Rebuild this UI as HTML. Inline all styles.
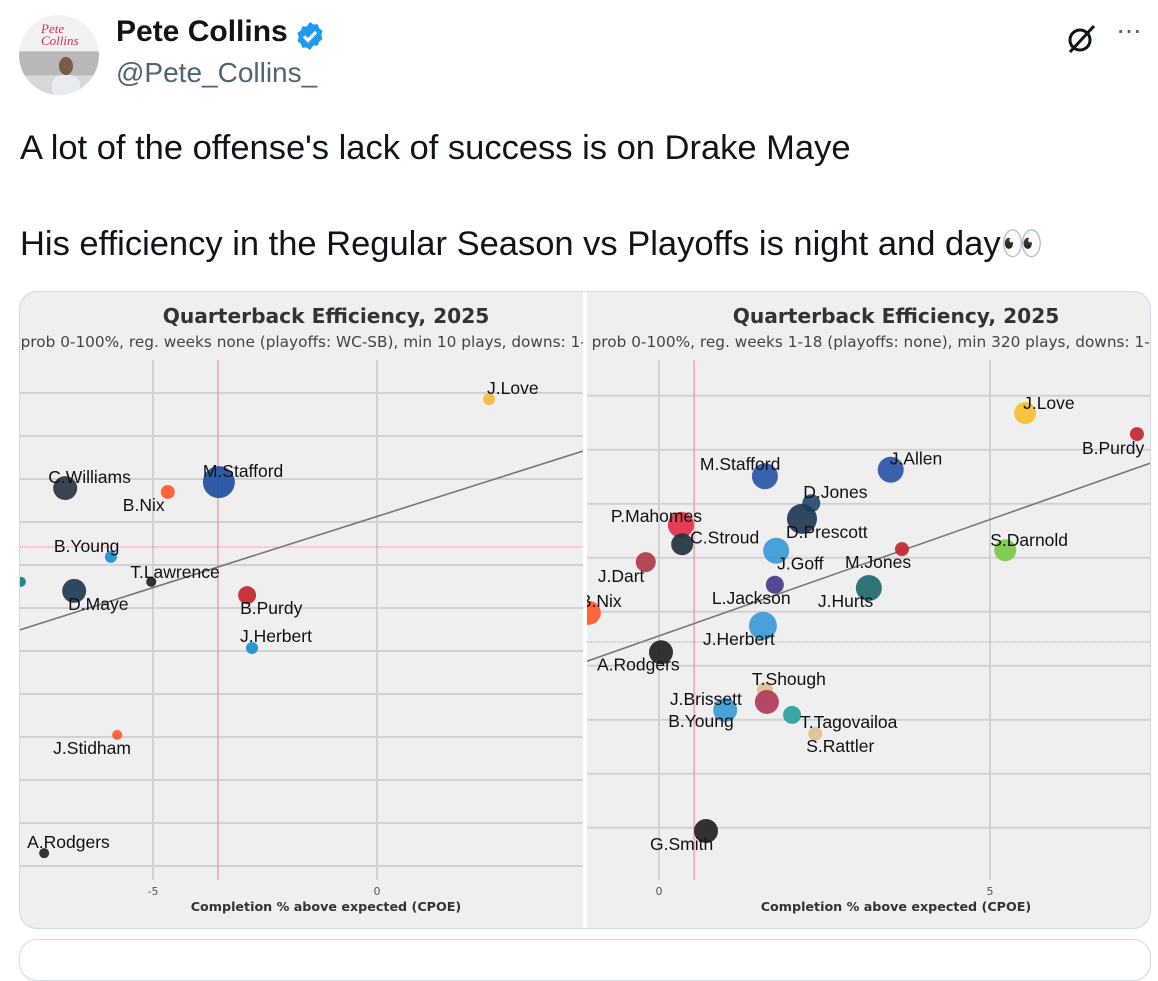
<!DOCTYPE html>
<html><head><meta charset="utf-8"><style>
body{margin:0;width:1158px;height:954px;background:#fff;overflow:hidden;font-family:"Liberation Sans",sans-serif;position:relative}
.abs{position:absolute}
</style></head><body>
<div class="abs" style="left:19px;top:15px;width:80px;height:80px;border-radius:50%;background:linear-gradient(#f2f2f2 0 45%,#b8b8b8 46% 75%,#d8d8d8 76%);overflow:hidden">
<div style="position:absolute;left:22px;top:8px;color:#d03050;font:italic 13px 'Liberation Serif',serif;line-height:12px">Pete<br>Collins</div>
<div style="position:absolute;left:40px;top:42px;width:14px;height:18px;border-radius:50%;background:#7a5a48"></div>
<div style="position:absolute;left:33px;top:60px;width:28px;height:24px;border-radius:40%;background:#e8ecf2"></div></div>
<div class="abs" style="left:116px;top:15px;font-weight:bold;font-size:30px;color:#0f1419">Pete Collins</div>
<svg class="abs" style="left:294px;top:20px" width="32" height="32" viewBox="0 0 24 24"><path d="M12 1.5l2.6 1.9 3.2-.2 1 3 2.6 1.9-1 3.1 1 3.1-2.6 1.9-1 3-3.2-.2L12 22.5l-2.6-1.9-3.2.2-1-3-2.6-1.9 1-3.1-1-3.1 2.6-1.9 1-3 3.2.2z" fill="#1d9bf0"/><path d="M7.5 12.3l3 3 6-6.3" stroke="#fff" stroke-width="2.4" fill="none"/></svg>
<div class="abs" style="left:116px;top:57px;font-size:28px;color:#536471">@Pete_Collins_</div>
<svg class="abs" style="left:1064px;top:22px" width="34" height="34" viewBox="0 0 34 34"><circle cx="16" cy="18" r="10" stroke="#0f1419" stroke-width="3" fill="none"/><path d="M6 30L30 4" stroke="#0f1419" stroke-width="3"/></svg>
<div class="abs" style="left:1116px;top:14px;font-size:28px;color:#536471;letter-spacing:-1px">···</div>
<div class="abs" style="left:20px;top:129px;font-size:34.5px;color:#0f1419;white-space:nowrap">A lot of the offense's lack of success is on Drake Maye</div>
<div class="abs" style="left:20px;top:224px;font-size:34.5px;color:#0f1419;white-space:nowrap">His efficiency in the Regular Season vs Playoffs is night and day👀</div>
<div class="abs" style="left:19px;top:291px;width:1130px;height:636px;border:1px solid #cfd9de;border-radius:18px;overflow:hidden;background:#efefef">
<svg id="chart" width="1132" height="638" style="position:absolute;left:-20px;top:-292px;overflow:visible" viewBox="0 0 1132 638"></svg>
</div>
<div class="abs" style="left:19px;top:939px;width:1130px;height:40px;border:1px solid #cfd9de;border-radius:18px"></div>
<script>
const leftNames=["J.Love","C.Williams","B.Nix","M.Stafford","B.Young","T.Lawrence","s","D.Maye","B.Purdy","J.Herbert","J.Stidham","A.Rodgers"];
const leftCPOE=[2.5,-6.96,-4.67,-3.53,-5.94,-5.04,-7.95,-6.76,-2.90,-2.79,-5.80,-7.43];
const leftEPA=[3.44,1.37,1.28,1.51,-0.23,-0.81,-0.81,-1.02,-1.12,-2.35,-4.37,-7.12];
const leftSize=[6,12,7,16,6,5,5,12,9,6,5,5];
const leftColor=["#f6b93b","#2b3440","#ff5a2a","#1e4fa0","#1a8fd0","#222","#1a7a7a","#1e3a55","#c0282d","#1590d0","#ff5a2a","#222"];
const leftLabelOff=[[-2,-5],[-17,-5],[-45,19],[-16,-5],[-57,-5],[-21,-4],[-25,-6],[-6,19],[-7,19],[-12,-6],[-64,19],[-17,-5]];
const leftTicks=[-5,0];
const leftGrid=[3.58,2.58,1.58,0.58,-0.42,-1.42,-2.42,-3.42,-4.42,-5.42,-6.42,-7.42];
const leftTrend=[0.331,0.71];

const rightNames=["J.Love","B.Purdy","M.Stafford","J.Allen","D.Jones","D.Prescott","P.Mahomes","C.Stroud","J.Goff","M.Jones","S.Darnold","J.Dart","L.Jackson","J.Hurts","B.Nix","J.Herbert","A.Rodgers","T.Shough","J.Brissett","B.Young","T.Tagovailoa","S.Rattler","G.Smith"];
const rightCPOE=[5.53,7.22,1.60,3.50,2.30,2.16,0.33,0.35,1.77,3.67,5.23,-0.20,1.75,3.17,-1.06,1.57,0.03,1.60,1.63,1.00,2.01,2.36,0.71];
const rightEPA=[4.24,3.85,3.07,3.19,2.57,2.28,2.17,1.81,1.69,1.72,1.70,1.48,1.06,1.00,0.54,0.30,-0.19,-0.89,-1.11,-1.26,-1.35,-1.70,-3.50];
const rightSize=[11,7,13,13,9,15,13,11,13,7,11,10,9,13,12,14,12,8,12,12,9,7,12];
const rightColor=["#f6c030","#c0282d","#2a55a8","#2a55a8","#244a70","#1e3a55","#e0304a","#1e3340","#3a9ad6","#c0282d","#7ac943","#b03a48","#4a3a8a","#1e6a6a","#ff5a2a","#3a9ad6","#222","#e0c090","#b03a5a","#3a9ad6","#2aa0a0","#e0c090","#222"];
const rightLabelOff=[[-2,-4],[-55,20],[-65,-6],[-1,-5],[-8,-5],[-16,19],[-70,-3],[8,-1],[1,19],[-57,19],[-15,-4],[-48,20],[-63,19],[-51,19],[-9,-6],[-60,19],[-64,18],[-13,-5],[-97,3],[-57,17],[8,13],[-9,18],[-56,19]];
const rightTicks=[0,5];
const rightGrid=[4.56,3.56,2.56,1.56,0.56,-0.44,-1.44,-2.44,-3.44];
const rightTrend=[0.431,0.113];

const NS="http://www.w3.org/2000/svg";
const svg=document.getElementById('chart');
function mk(tag,attrs,parent){const e=document.createElementNS(NS,tag);for(const k in attrs)e.setAttribute(k,attrs[k]);(parent||svg).appendChild(e);return e;}
function panel(cfg){
  const g=mk('g',{});
  
  
  const cid=cfg.id+'-clip';
  const cp=mk('clipPath',{id:cid},g);mk('rect',{x:cfg.x0,y:292,width:cfg.x1-cfg.x0,height:640},cp);
  const inner=mk('g',{'clip-path':'url(#'+cid+')'},g);
  const sx=v=>cfg.ox+cfg.kx*v, sy=u=>cfg.oy-cfg.ky*u;
  cfg.grid.forEach(u=>{const l=mk('line',{x1:cfg.x0,x2:cfg.x1,y1:sy(u),y2:sy(u),stroke:'#d2d2d2','stroke-width':2},inner);
    
    });
  cfg.ticks.forEach(t=>{const l=mk('line',{x1:sx(t),x2:sx(t),y1:360,y2:880,stroke:'#d2d2d2','stroke-width':2},inner);
    
    
    const tx=mk('text',{x:sx(t),y:895,'text-anchor':'middle','font-size':11,fill:'#555','font-family':'DejaVu Sans,sans-serif'},inner);tx.textContent=t;
    
    });
  const rv=mk('line',{x1:sx(cfg.meanX),x2:sx(cfg.meanX),y1:360,y2:880,stroke:'#f08080','stroke-width':1},inner);
  
  
  const rh=mk('line',{x1:cfg.x0,x2:cfg.x1,y1:sy(0),y2:sy(0),stroke:'#f08080','stroke-width':1,'stroke-dasharray':'1 1'},inner);
  
  
  const vA=(cfg.x0-cfg.ox)/cfg.kx, vB=(cfg.x1-cfg.ox)/cfg.kx;
  const tl=mk('line',{x1:sx(vA),y1:sy(cfg.trend[0]*vA+cfg.trend[1]),x2:sx(vB),y2:sy(cfg.trend[0]*vB+cfg.trend[1]),stroke:'#777','stroke-width':1.6},inner);
  
  
  cfg.names.forEach((n,i)=>{const c=mk('circle',{cx:sx(cfg.xs[i]),cy:sy(cfg.ys[i]),r:cfg.size[i],fill:cfg.color[i],opacity:0.92},inner);
    
    });
  cfg.names.forEach((n,i)=>{const t=mk('text',{x:sx(cfg.xs[i])+cfg.off[i][0],y:sy(cfg.ys[i])+cfg.off[i][1],'font-size':17.5,fill:'#111','font-family':'Liberation Sans,sans-serif'},inner);t.textContent=n;
    
    });
  const ti=mk('text',{x:cfg.cx,y:323,'text-anchor':'middle','font-size':20.2,'font-weight':'bold',fill:'#333','font-family':'DejaVu Sans,sans-serif'},inner);ti.textContent='Quarterback Efficiency, 2025';
  
  
  const st=mk('text',{x:cfg.subX,y:347,'font-size':15.3,fill:'#444','font-family':'DejaVu Sans,sans-serif'},inner);st.textContent=cfg.sub;
  
  
  const ax=mk('text',{x:cfg.axX,y:911,'text-anchor':'middle','font-size':12.7,'font-weight':'bold',fill:'#333','font-family':'DejaVu Sans,sans-serif'},inner);ax.textContent='Completion % above expected (CPOE)';
  
  
}
panel({id:'playoffs',x0:20,x1:583,ox:377,kx:44.8,oy:547,ky:43,meanX:-3.55,grid:leftGrid,ticks:leftTicks,trend:leftTrend,names:leftNames,xs:leftCPOE,ys:leftEPA,size:leftSize,color:leftColor,off:leftLabelOff,cx:326,subX:-13,sub:'Win prob 0-100%, reg. weeks none (playoffs: WC-SB), min 10 plays, downs: 1-4',axX:326});
panel({id:'regular',x0:587,x1:1150,ox:659,kx:66.2,oy:642,ky:54,meanX:0.53,grid:rightGrid,ticks:rightTicks,trend:rightTrend,names:rightNames,xs:rightCPOE,ys:rightEPA,size:rightSize,color:rightColor,off:rightLabelOff,cx:896,subX:558,sub:'Win prob 0-100%, reg. weeks 1-18 (playoffs: none), min 320 plays, downs: 1-4',axX:896});
const dv=mk('rect',{x:583,y:292,width:4,height:640,fill:'#fff'});


</script>
</body></html>
